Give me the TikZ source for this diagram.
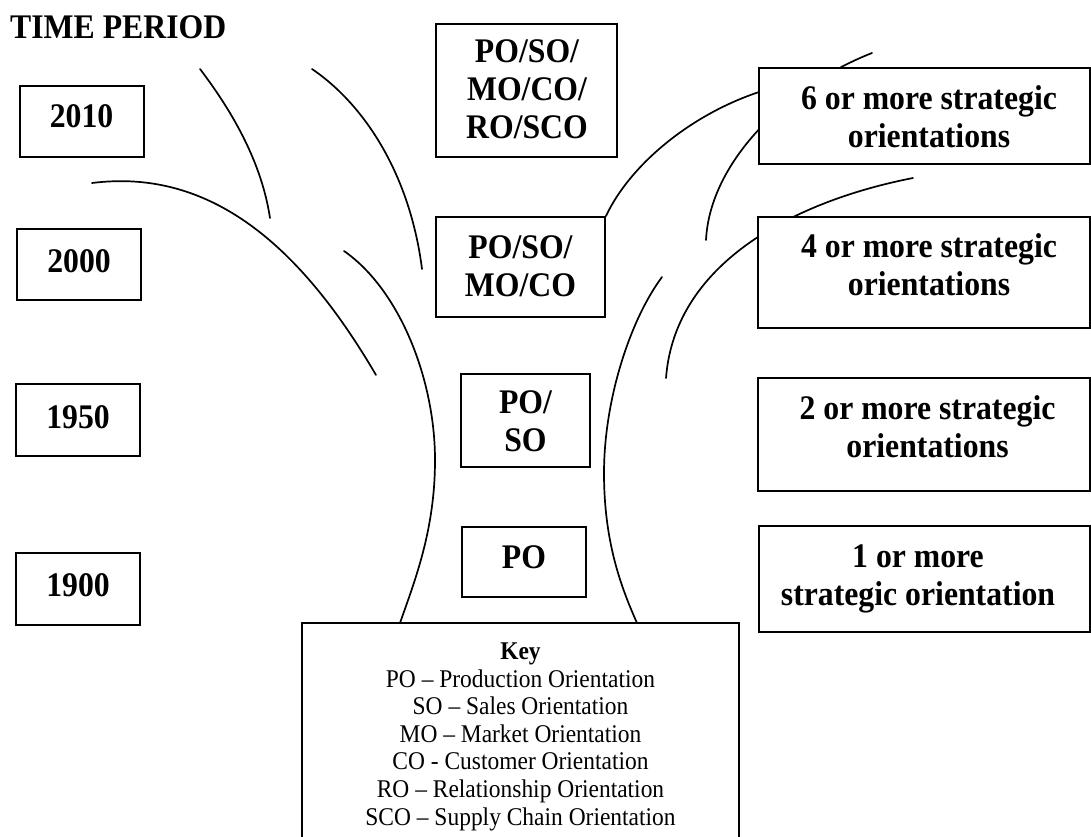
\documentclass[tikz,border=0pt]{standalone}
\usepackage{fontspec}
\setmainfont{Liberation Serif}[FakeStretch=0.92]
\usetikzlibrary{backgrounds}
\begin{document}
\begin{tikzpicture}[x=1pt,y=-1pt,
  box/.style={draw, line width=1.9pt, fill=white, rectangle, inner sep=0pt},
  big/.style={font=\fontsize{34.5}{38}\selectfont\bfseries, align=center, anchor=base, inner sep=0pt},
  keytxt/.style={font=\fontsize{25.5}{27.6}\selectfont, align=center, anchor=base, inner sep=0pt},
  branch/.style={line width=1.7pt, line cap=round}]
\useasboundingbox (0,0) rectangle (1091,836);

% heading
\node[big, anchor=base west] (title) at (10,38) {TIME PERIOD};

% time periods
\node[box, minimum width=124pt, minimum height=71pt] (b2010) at (82,121.5) {};
\node[box, minimum width=124pt, minimum height=71pt] (b2000) at (79,264.5) {};
\node[box, minimum width=124pt, minimum height=72pt] (b1950) at (78,420) {};
\node[box, minimum width=124pt, minimum height=72pt] (b1900) at (78,589) {};
\node[big] (t2010) at (81.5,127) {2010};
\node[big] (t2000) at (79,272) {2000};
\node[big] (t1950) at (78,428) {1950};
\node[big] (t1900) at (78,596) {1900};

% orientations along the trunk (multi-line texts sit on their last baseline)
\node[box, minimum width=181pt, minimum height=133pt] (m6) at (526.5,90.5) {};
\node[box, minimum width=169pt, minimum height=100pt] (m4) at (520.5,267) {};
\node[box, minimum width=129pt, minimum height=93pt] (m2) at (525.5,420.5) {};
\node[box, minimum width=124pt, minimum height=70pt] (m1) at (524,562) {};
\node[big] (tm6) at (527,138) {PO/SO/\\MO/CO/\\RO/SCO};
\node[big] (tm4) at (520.5,296) {PO/SO/\\MO/CO};
\node[big] (tm2) at (525.5,451) {PO/\\SO};
\node[big] (tm1) at (524,568) {PO};

% number of orientations
\node[box, minimum width=331pt, minimum height=96pt] (r6) at (924.5,116) {};
\node[box, minimum width=332pt, minimum height=111pt] (r4) at (924,272.5) {};
\node[box, minimum width=332pt, minimum height=113pt] (r2) at (924,434.5) {};
\node[box, minimum width=331pt, minimum height=106pt] (r1) at (924.5,579) {};
\node[big] (tr6) at (929,147) {6 or more strategic\\orientations};
\node[big] (tr4) at (929,295) {4 or more strategic\\orientations};
\node[big] (tr2) at (927.5,457) {2 or more strategic\\orientations};
\node[big] (tr1) at (918,605) {1 or more\\strategic orientation};

% key
\node[box, minimum width=437pt, minimum height=217pt] (key) at (520.5,731.5) {};
\node[keytxt] (keyhead) at (520.5,659) {\bfseries Key};
\node[keytxt] (keylist) at (520.5,825) {PO – Production Orientation\\SO – Sales Orientation\\MO – Market Orientation\\CO - Customer Orientation\\RO – Relationship Orientation\\SCO – Supply Chain Orientation};

% tree outline and branches, behind the boxes
\begin{scope}[on background layer]
  \coordinate (tl0) at (344,251);
  \coordinate (tl1) at (435,460);
  \coordinate (tl2) at (400,623);
  \coordinate (tr0) at (662,277);
  \coordinate (tr1) at (604,473);
  \coordinate (tr2) at (637,623);
  \coordinate (a0) at (92,183);
  \coordinate (a1) at (376,375);
  \coordinate (b0) at (200,69);
  \coordinate (b1) at (270,218);
  \coordinate (c0) at (312,69);
  \coordinate (c1) at (422,269);
  \coordinate (d0) at (706,240);
  \coordinate (d1) at (872,53);
  \coordinate (e0) at (666,378);
  \coordinate (e1) at (913,178);
  \coordinate (f1) at (759,92);
  \draw[branch] (tl0) .. controls (400,290) and (435,380) .. (tl1)
                      .. controls (435,530) and (415,580) .. (tl2);
  \draw[branch] (tr0) .. controls (630,320) and (604,400) .. (tr1)
                      .. controls (604,540) and (620,585) .. (tr2);
  \draw[branch] (a0) .. controls (210,168) and (300,245) .. (a1);
  \draw[branch] (b0) .. controls (235,115) and (262,165) .. (b1);
  \draw[branch] (c0) .. controls (365,105) and (410,175) .. (c1);
  \draw[branch] (d0) .. controls (710,160) and (790,85) .. (d1);
  \draw[branch] (e0) .. controls (675,260) and (800,200) .. (e1);
  \draw[branch] (m4.north east) .. controls (630,165) and (690,115) .. (f1);
\end{scope}
\end{tikzpicture}
\end{document}
